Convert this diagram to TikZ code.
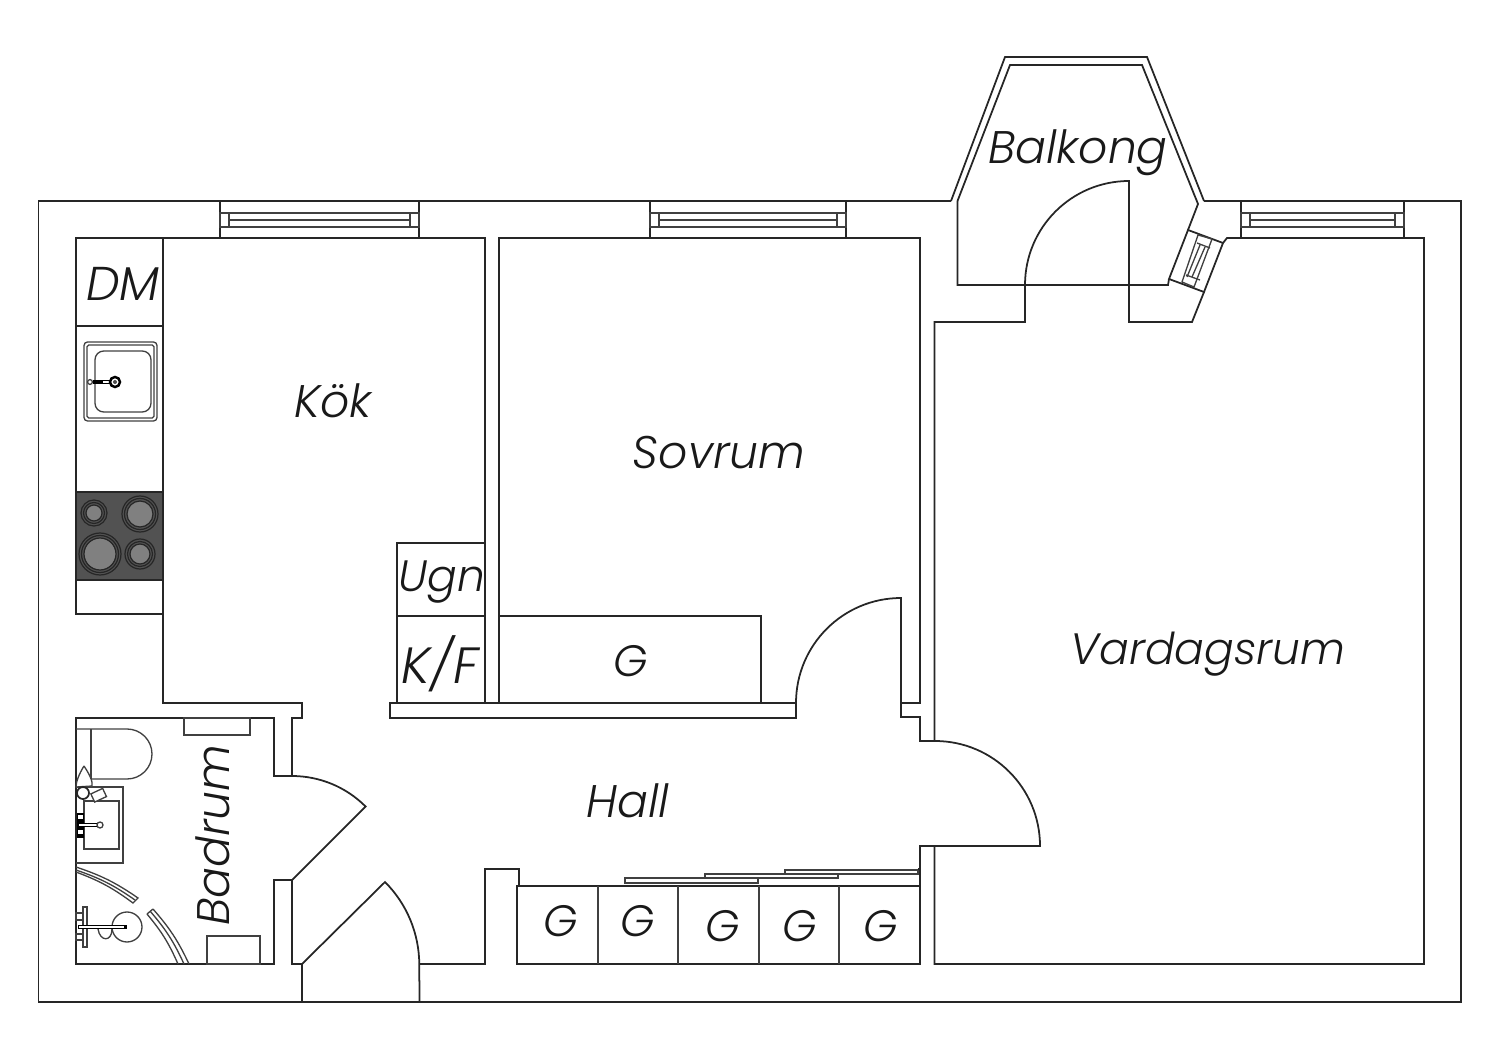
\documentclass[tikz,border=0pt]{standalone}
\usepackage{fontspec}
\setmainfont{Poppins Light}[ItalicFont={Poppins Light Italic}]
\usetikzlibrary{positioning}
\begin{document}
\begin{tikzpicture}[x=0.02cm, y=-0.02cm, line join=miter,
	wall_line/.style={draw=black!85, line width=1pt},
	thin_line/.style={draw=black!75, line width=0.75pt},
	room_label/.style={font=\fontsize{26}{26}\selectfont\itshape, text=black!90, inner sep=0pt},
	store_label/.style={font=\fontsize{27}{27}\selectfont\itshape, text=black!90, inner sep=0pt},
	door_label/.style={font=\fontsize{25}{25}\selectfont\itshape, text=black!90, inner sep=0pt}]
	\useasboundingbox (0,0) rectangle (1500,1060);

	\draw [wall_line] (951,201) -- (38.5,201) -- (38.5,1002) -- (1461,1002) -- (1461,201) -- (1204,201);
	\draw [wall_line] (951,201) -- (1005,57) -- (1147,57) -- (1204,201);
	\draw [wall_line] (957.5,201) -- (1010,65) -- (1142,65) -- (1198,204) -- (1188,230);
	\draw [wall_line] (957.5,201) -- (957.5,285) -- (1168,285) -- (1169,279);

	\foreach \xa/\xb/\xc/\xd in {
		220/229/410/419,
		650/659/837/846,
		1241/1250/1395/1404
		} {
	  \draw [wall_line] (\xa,201) rectangle (\xd,238);
	  \draw [thin_line] (\xa,213) rectangle (\xd,227);
	  \draw [thin_line] (\xb,213) rectangle (\xc,227) (\xb,220) -- (\xc,220);
	}

	\draw [wall_line] (1188,230) -- (1223,243) -- (1204,292) -- (1169,279) -- cycle;
	\draw [thin_line] (1198,235) -- (1212,239) -- (1194,287) -- (1182,282) -- cycle;
	\draw [thin_line] (1197,243) -- (1210,248) (1186,275) -- (1200,280);
	\draw [thin_line] (1200,245) -- (1187,277) (1205,247) -- (1192,277);

	\draw [wall_line] (76,238) -- (485,238) -- (485,703);
	\draw [wall_line] (76,238) rectangle (163,614);
	\draw [wall_line] (163,614) -- (163,703) -- (302,703) -- (302,718) -- (292,718) -- (292,776);
	\draw [wall_line] (76,326) -- (163,326);
	\draw [wall_line] (76,718) -- (274,718) -- (274,776) -- (292,776)
		arc [start angle=270, end angle=315, radius=104] -- (292,880) -- (274,880) -- (274,964) -- (76,964) -- cycle;
	\draw [wall_line] (292,880) -- (292,964) -- (302,964) -- (302,1002);
	\draw [wall_line] (302,964) -- (385,882) arc [start angle=315, end angle=360, radius=117] -- (419.5,1002);
	\draw [wall_line] (419.5,964) -- (485,964) -- (485,869) -- (519,869) -- (519,886);
	\draw [wall_line] (517,886) rectangle (920,964);
	\foreach \xa in {598,678,759,839}
	  \draw [thin_line] (\xa,886) -- (\xa,964);
	\foreach \xa/\ya/\xb/\yb in {
		625/878/758/883,
		705/874/838/878,
		785/870/918/874
		}
	  \draw [thin_line] (\xa,\ya) rectangle (\xb,\yb);
	\draw [wall_line] (920,886) -- (920,869) -- (918,869);
	\draw [wall_line] (920,869) -- (920,846) -- (934.5,846) -- (1040,846)
		arc [start angle=360, end angle=270, radius=105] -- (920,741) -- (920,717) -- (901,717) -- (901,598)
		arc [start angle=270, end angle=180, radius=105] -- (796,718) -- (390,718) -- (390,703) -- (796,703);
	\draw [wall_line] (901,703) -- (920,703) -- (920,238) -- (499,238) -- (499,703);
	\draw [wall_line] (761,703) -- (761,616) -- (499,616);
	\draw [wall_line] (397,703) -- (397,543) -- (485,543) (397,616) -- (485,616);

	\draw [wall_line] (934.5,741) -- (934.5,322) -- (1025,322) -- (1025,285)
		arc [start angle=180, end angle=270, radius=104] -- (1129,322) -- (1192,322) -- (1204,292);
	\draw [wall_line] (1223,243) -- (1227,238) -- (1424,238) -- (1424,964) -- (934.5,964) -- (934.5,846);

	\draw [thin_line, rounded corners=2pt] (84,342) rectangle (157,421);
	\draw [thin_line, rounded corners=1pt] (87,345) rectangle (154,418);
	\draw [thin_line, rounded corners=5pt] (95,351) rectangle (151,412);
	\draw [black, line width=2pt] (93,382) -- (113,382);
	\draw [white, line width=0.7pt] (103,382) -- (111,382);
	\draw [draw=black, line width=1.4pt, fill=white] (115,382) circle (5);
	\fill [black!70] (115,382) circle (2);
	\draw [thin_line, fill=white] (90,382) circle (2.4);

	\draw [wall_line, fill=black!68] (76,492) rectangle (163,580);
	\foreach \bx/\by/\br in {94/513/13, 140/514/18, 100/554/21, 140/554/15} {
	  \draw [draw=black!85, line width=0.7pt] (\bx,\by) circle (\br);
	  \draw [draw=black!85, line width=0.7pt] (\bx,\by) circle (\br-2.5);
	  \draw [draw=black!85, fill=black!50, line width=0.7pt] (\bx,\by) circle (\br-5);
	}

	\draw [thin_line] (184,718) rectangle (250,735);
	\draw [thin_line] (207,964) rectangle (260,936);
	\draw [thin_line] (76,729) -- (127,729) arc [start angle=270, end angle=450, radius=25] -- (91,779);
	\draw [thin_line] (91,729) -- (91,779);
	\draw [thin_line] (76,787) -- (123,787) -- (123,863) -- (76,863);
	\draw [thin_line] (84,801) rectangle (119,849);
	\fill [black] (77,813) rectangle (84,838);
	\foreach \tapy in {817,832}
	  \fill [white] (78,\tapy-2) rectangle (83,\tapy+2);
	\draw [black, line width=2pt] (78,825) -- (99,825);
	\draw [white, line width=0.8pt] (79,825) -- (98,825);
	\draw [thin_line, fill=white] (100,825) circle (3);
	\draw [thin_line, fill=white] (84,766) .. controls (90,775) and (93,782) .. (92,786) -- (76,787)
		.. controls (76,782) and (79,774) .. (84,766);
	\draw [wall_line, fill=white] (83,793) circle (6);
	\draw [thin_line, fill=white, rotate around={25:(98,795)}] (92,791) rectangle (105,800);

	\draw [thin_line] (76,867) to [bend left=8] (138,898) -- (133,903) to [bend right=8] (76,872);
	\draw [thin_line] (76,870) to [bend left=8] (135,900);
	\draw [thin_line] (153,909) to [bend left=8] (189,964) (147,914) to [bend left=8] (178,964);
	\draw [thin_line] (150,911) to [bend left=8] (184,964) (147,914) -- (153,909);
	\draw [thin_line] (127,927) circle (15);
	\draw [thin_line] (98,929) .. controls (100,942) and (112,942) .. (112,929);
	\draw [thin_line, fill=white] (83,907) rectangle (87,947);
	\draw [thin_line, fill=white] (76,913) rectangle (83,920) (76,934) rectangle (83,940);
	\draw [black, line width=2pt] (78,927) -- (127,927);
	\draw [white, line width=0.8pt] (79,927) -- (124,927);

	\node [room_label] (balkong) at (1078,153) {Balkong};
	\node [room_label] (kok) at (333,401) {Kök};
	\node [room_label] (sovrum) at (719,453) {Sovrum};
	\node [door_label] (vardagsrum) at (1208,654) {Vardagsrum};
	\node [room_label] (hall) at (628,801) {Hall};
	\node [room_label, rotate=90] (badrum) at (213,835) {Badrum};
	\node [store_label] (dm) at (123,284) {DM};
	\node [door_label] (ugn) at (442,582) {Ugn};
	\node [store_label, font=\fontsize{29}{29}\selectfont\itshape] (kf) at (440,664) {K/F};
	\node [door_label] (g0) at (631,661) {G};
	\foreach \gname/\gx/\gy in {g1/561/921, g2/638/921, g3/723/926, g4/800/926, g5/881/926}
	  \node [door_label] (\gname) at (\gx,\gy) {G};
\end{tikzpicture}
\end{document}
